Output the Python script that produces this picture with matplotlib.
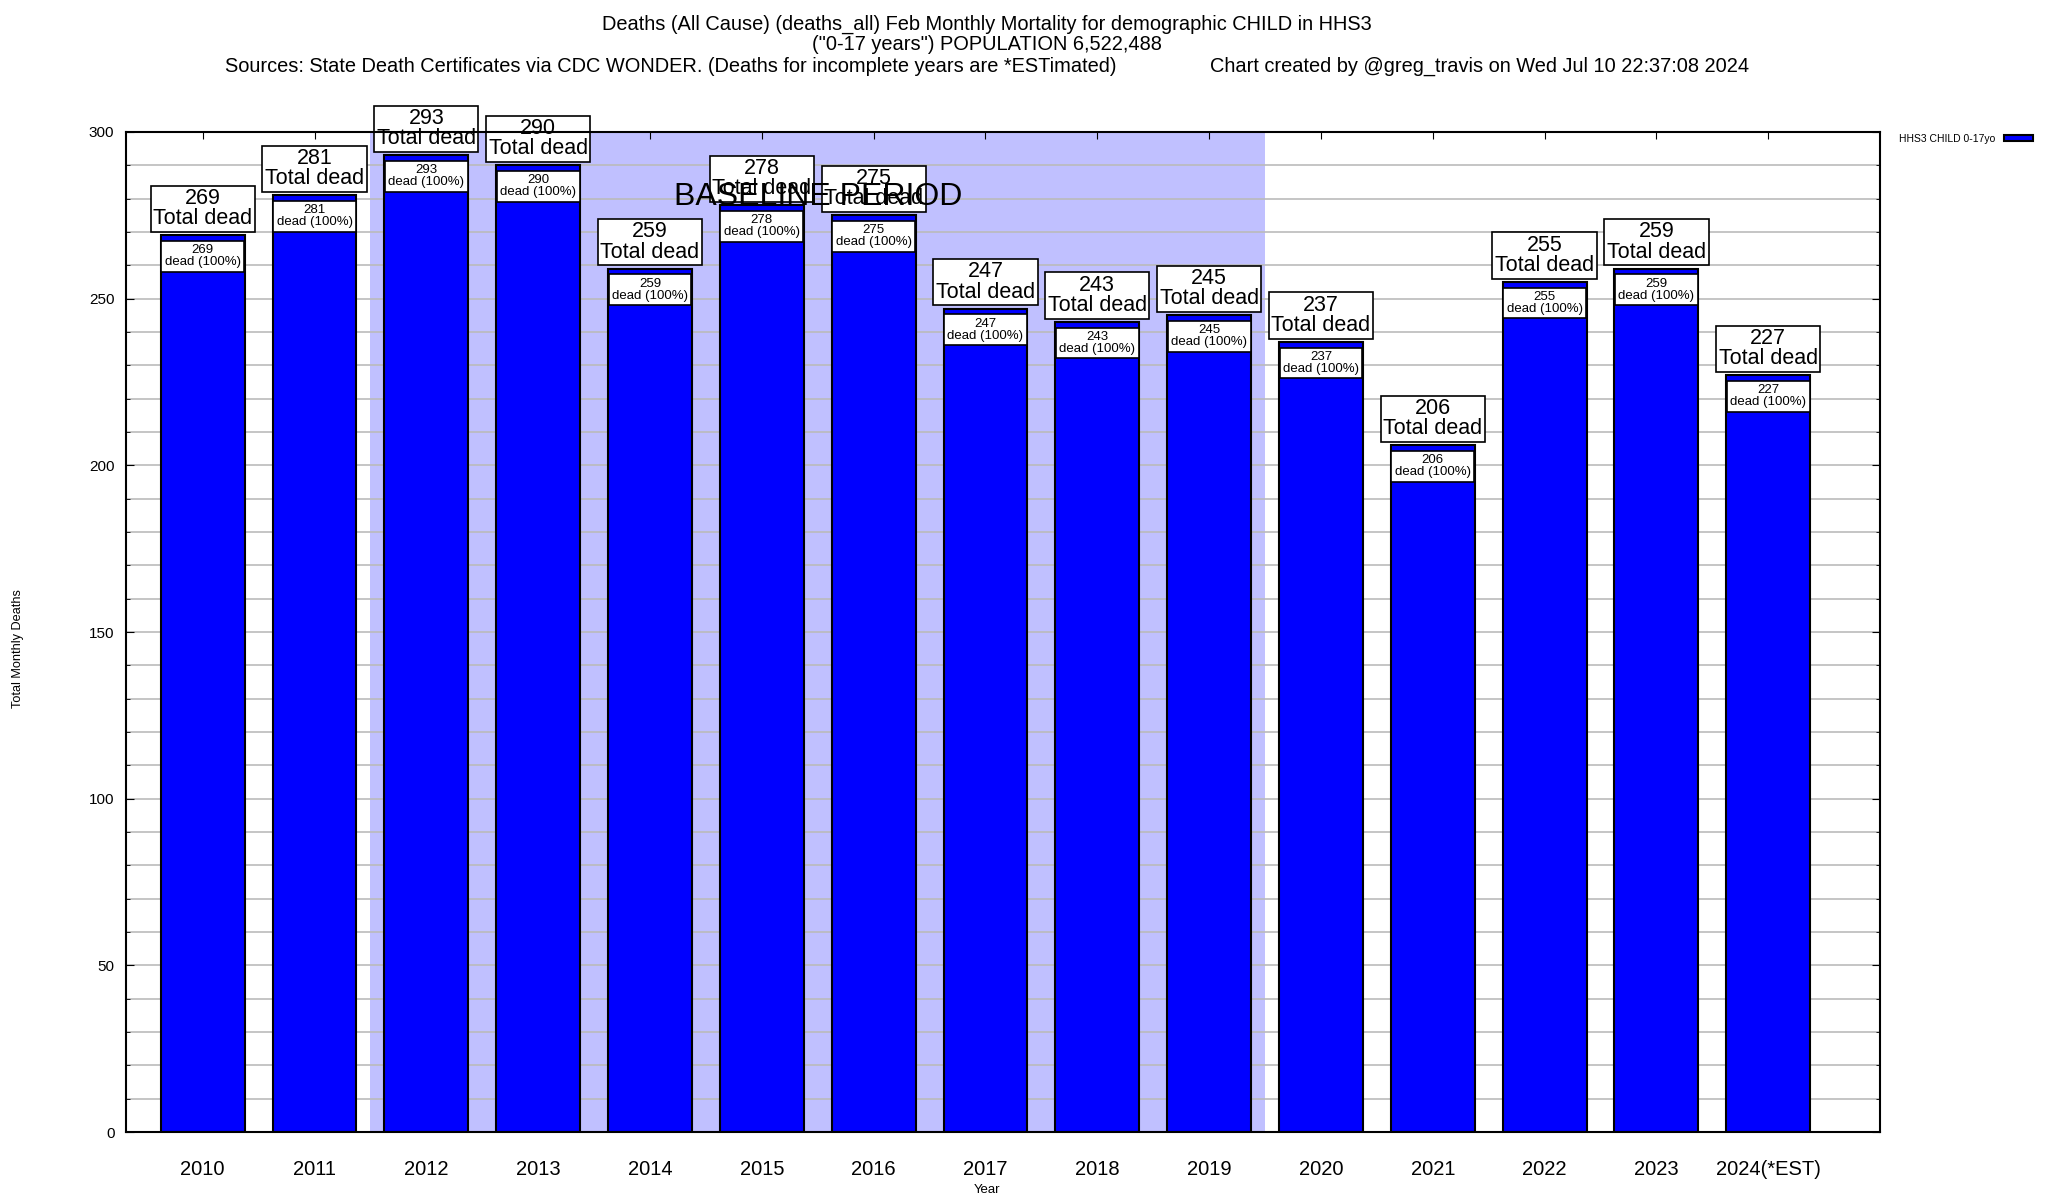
import matplotlib
matplotlib.use("Agg")
import matplotlib.pyplot as plt
from matplotlib.ticker import MultipleLocator

plt.rcParams['font.family'] = ['Liberation Sans', 'DejaVu Sans']

# Daten
years = ["2010", "2011", "2012", "2013", "2014", "2015", "2016", "2017",
         "2018", "2019", "2020", "2021", "2022", "2023", "2024(*EST)"]
deaths = [269, 281, 293, 290, 259, 278, 275, 247, 243, 245, 237, 206, 255, 259, 227]
baseline_start, baseline_end = "2012", "2019"
series_name = "HHS3 CHILD 0-17yo"

title_lines = [
    "Deaths (All Cause) (deaths_all) Feb Monthly Mortality for demographic CHILD in HHS3",
    "(\"0-17 years\") POPULATION 6,522,488",
    "Sources: State Death Certificates via CDC WONDER. (Deaths for incomplete years are *ESTimated)"
    "                 Chart created by @greg_travis on Wed Jul 10 22:37:08 2024",
]

fig = plt.figure(figsize=(20.48, 12), dpi=100)
L, R, B, T = 0.0613, 0.918, 0.0566, 0.890
ax = fig.add_axes([L, B, R - L, T - B])

x = list(range(len(years)))
i0 = years.index(baseline_start)
i1 = years.index(baseline_end)
ax.axvspan(i0 - 0.5, i1 + 0.5, color="#c0c0ff", zorder=0, lw=0)

bars = ax.bar(x, deaths, width=0.75, color="#0000ff", edgecolor="black",
              linewidth=1.5, zorder=2, label=series_name)

for xi, v in zip(x, deaths):
    # Gesamtwert über dem Balken
    ax.annotate(f"{v}\nTotal dead", (xi, v), xytext=(0, 6), textcoords="offset pixels",
                ha="center", va="bottom", fontsize=15.5, linespacing=0.95, zorder=4,
                bbox=dict(boxstyle="square,pad=0.12", fc="white", ec="black", lw=1.2))
    # Anteil innerhalb des Balkens
    ax.annotate(f"{v}\ndead (100%)", (xi, v), xytext=(0, -9), textcoords="offset pixels",
                ha="center", va="top", fontsize=9.5, linespacing=1.0, zorder=3,
                bbox=dict(boxstyle="square,pad=0.26", fc="white", ec="black", lw=1.2))

ax.text((i0 + i1) / 2, 280.5, "BASELINE PERIOD", ha="center", va="center",
        fontsize=23, zorder=5)

ax.set_xlim(-0.69, len(years))
ax.set_ylim(0, 300)
ax.set_xticks(x)
ax.set_xticklabels(years, fontsize=14.5)
ax.yaxis.set_major_locator(MultipleLocator(50))
ax.yaxis.set_minor_locator(MultipleLocator(10))
ax.tick_params(axis="y", which="both", direction="in", right=True, labelsize=11, pad=8)
ax.tick_params(axis="x", direction="in", top=True, pad=20, length=5)
ax.tick_params(axis="y", which="major", length=6)
ax.tick_params(axis="y", which="minor", length=3)
ax.set_axisbelow(True)
ax.grid(axis="y", which="both", color="#bbbbbb", lw=1.2)
for s in ax.spines.values():
    s.set_linewidth(1.5)
    s.set_zorder(6)

ax.set_xlabel("Year", fontsize=9.5)
ax.xaxis.set_label_coords(0.491, -0.052)
ax.set_ylabel("Total Monthly Deaths", fontsize=9.2)
ax.yaxis.set_label_coords(-0.058, 0.483)

ax.legend(loc="upper left", bbox_to_anchor=(1.0085, 1.002), frameon=False,
          markerfirst=False, fontsize=7.5, handlelength=2.8, handleheight=0.5,
          borderaxespad=0)

cx = 0.482
fig.text(cx, 0.980, title_lines[0], ha="center", va="center", fontsize=14.4)
fig.text(cx, 0.963, title_lines[1], ha="center", va="center", fontsize=14.4)
fig.text(cx, 0.945, title_lines[2], ha="center", va="center", fontsize=14.4)

fig.savefig("out.png", dpi=100)
